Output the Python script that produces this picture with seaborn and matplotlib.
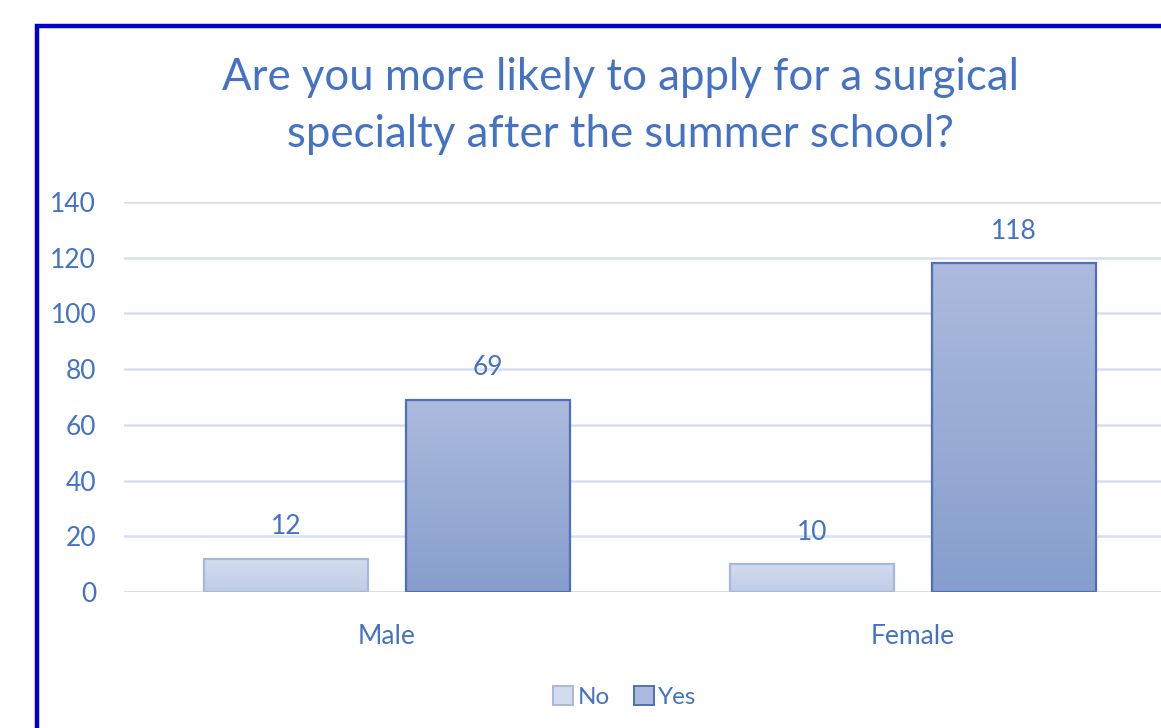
import numpy as np
import pandas as pd
import seaborn as sns
import matplotlib.pyplot as plt
from matplotlib.patches import Patch, Rectangle
from matplotlib.colors import LinearSegmentedColormap

# data
genders = ["Male", "Female"]
answers = ["No", "Yes"]
no_counts = [12, 10]
yes_counts = [69, 118]

df = pd.DataFrame({
    "gender": genders * 2,
    "answer": ["No"] * 2 + ["Yes"] * 2,
    "count": no_counts + yes_counts,
})

blue = "#4472C4"
grad = {"No": ("#D3DCEE", "#C0CCE7"), "Yes": ("#ACBADD", "#869ECD")}
edges = {"No": "#A8B8DC", "Yes": "#4F6FBB"}

sns.set_style("white")
plt.rcParams["font.family"] = ["Lato", "DejaVu Sans"]

fig = plt.figure(figsize=(11.61, 7.28), dpi=100)
ax = fig.add_axes([124 / 1161, 136 / 728, 1052 / 1161, 390 / 728])

sns.barplot(data=df, x="gender", y="count", hue="answer", hue_order=answers,
            order=genders, width=0.768, gap=0.19, ax=ax, legend=False,
            linewidth=1.6)

# gradient fill for each bar, clipped to the bar shape
for container, ans in zip(ax.containers, answers):
    cmap = LinearSegmentedColormap.from_list(ans, [grad[ans][1], grad[ans][0]])
    for bar in container:
        bar.set_edgecolor(edges[ans])
        bar.set_facecolor("none")
        bar.set_zorder(3)
        x0, y0 = bar.get_x(), bar.get_y()
        w, h = bar.get_width(), bar.get_height()
        img = ax.imshow(np.linspace(0, 1, 256).reshape(-1, 1), cmap=cmap,
                        origin="lower", extent=[x0, x0 + w, y0, y0 + h],
                        aspect="auto", zorder=2)
        img.set_clip_path(bar)
    ax.bar_label(container, padding=14, fontsize=19, color=blue)

ax.set_xlim(-0.5, 1.5)
ax.set_ylim(0, 140)
ax.set_yticks(range(0, 141, 20))
ax.yaxis.grid(True, color="#D6DEF0", linewidth=1.8, zorder=0)
ax.set_axisbelow(True)
for s in ax.spines.values():
    s.set_visible(False)
ax.axhline(0, color="#D6DEF0", linewidth=1.8, zorder=1)
ax.tick_params(axis="y", labelsize=19, labelcolor=blue, pad=20, length=0)
ax.tick_params(axis="x", labelsize=19, labelcolor=blue, pad=23, length=0)
ax.set_xlabel("")
ax.set_ylabel("")

fig.text(620 / 1161, 1 - 106 / 728,
         "Are you more likely to apply for a surgical\nspecialty after the summer school?",
         ha="center", va="center", fontsize=31.5, color=blue, linespacing=1.46)

handles = [Patch(facecolor=grad[a][0], edgecolor=edges[a], linewidth=1.4, label=a)
           for a in answers]
fig.legend(handles=handles, loc="center", bbox_to_anchor=(625 / 1161, 1 - 697 / 728),
           ncol=2, frameon=False, fontsize=17.5, labelcolor=blue,
           handlelength=0.8, handleheight=0.8, handletextpad=0.2, columnspacing=1.0)

# outer chart frame
fig.patches.append(Rectangle((37 / 1161, -0.05), 1.1, 1 - 26 / 728 + 0.05,
                             transform=fig.transFigure, fill=False,
                             edgecolor="#0000CC", linewidth=3.2))

fig.savefig("out.png", dpi=100)
